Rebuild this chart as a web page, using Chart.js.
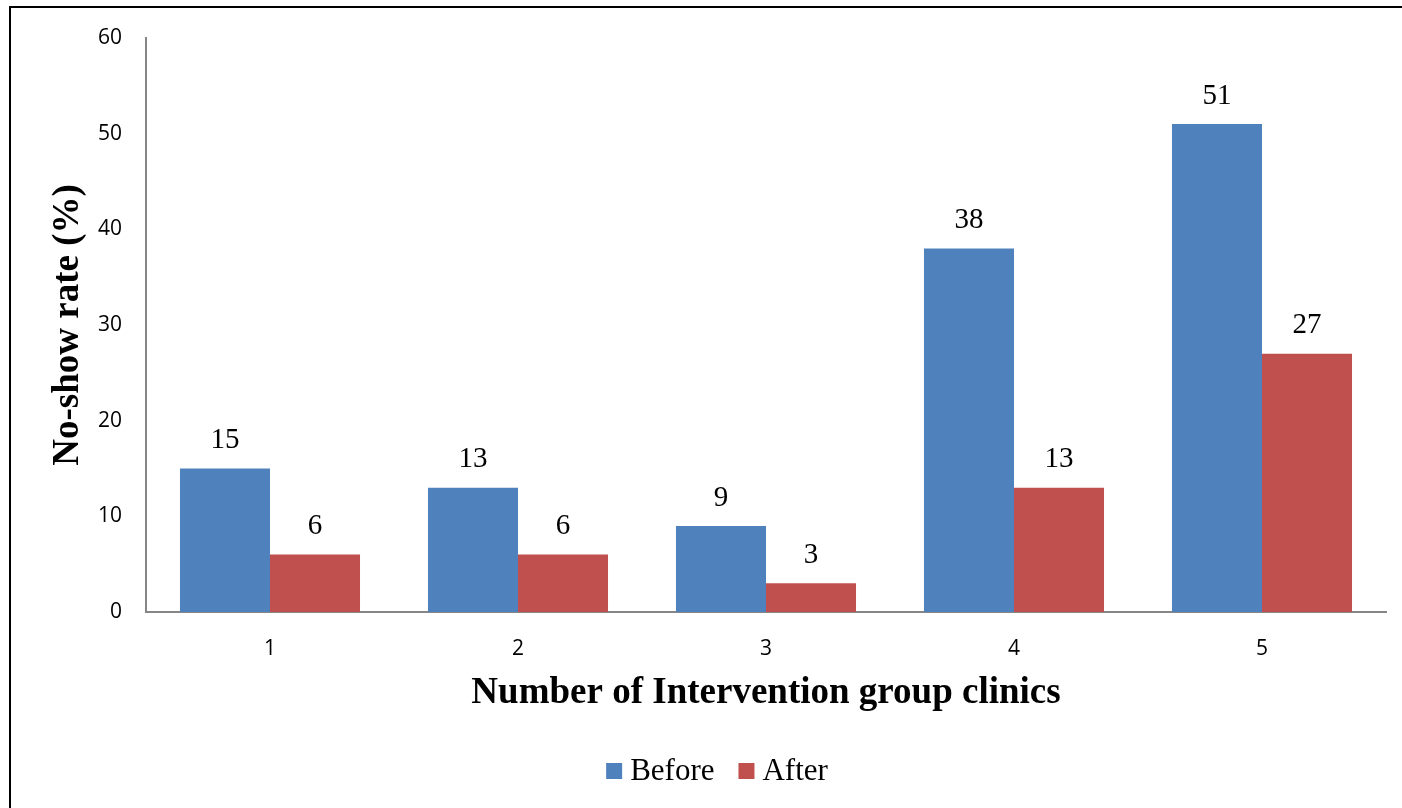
<!DOCTYPE html>
<html>
<head>
<meta charset="utf-8">
<script src="https://cdn.jsdelivr.net/npm/chart.js@4.4.1/dist/chart.umd.min.js"></script>
<style>
  html, body { margin: 0; padding: 0; background: #ffffff; }
  #wrap { position: relative; width: 1402px; height: 808px; overflow: hidden; }
  #frame { position: absolute; left: 9px; top: 6px; width: 1400px; height: 900px;
           border-left: 2px solid #000; border-top: 2px solid #000; box-sizing: border-box; }
  canvas { position: absolute; left: 0; top: 0; }
</style>
</head>
<body>
<div id="wrap">
  <div id="frame"></div>
  <canvas id="c" width="1402" height="808"></canvas>
</div>
<script>
const clinics = ['1', '2', '3', '4', '5'];
const beforeRates = [15, 13, 9, 38, 51];
const afterRates = [6, 6, 3, 13, 27];
const yTicks = [0, 10, 20, 30, 40, 50, 60];

const serif = "'Liberation Serif', 'Times New Roman', serif";
const sans = "'Open Sans', 'Liberation Sans', sans-serif";

// Writes each bar's value centred above it
const valueLabels = {
  id: 'valueLabels',
  afterDatasetsDraw(chart) {
    const ctx = chart.ctx;
    ctx.save();
    ctx.font = "29px " + serif;
    ctx.fillStyle = '#000';
    ctx.textAlign = 'center';
    ctx.textBaseline = 'middle';
    chart.data.datasets.forEach((ds, i) => {
      chart.getDatasetMeta(i).data.forEach((bar, j) => {
        ctx.fillText(String(ds.data[j]), bar.x, bar.y - 28);
      });
    });
    ctx.restore();
  }
};

// Compact legend row under the axis title: square swatch + series name
const swatchLegend = {
  id: 'swatchLegend',
  afterDraw(chart) {
    const ctx = chart.ctx;
    const box = 16, gapText = 8, gapItem = 24, midY = 771;
    ctx.save();
    ctx.font = "31px " + serif;
    ctx.textBaseline = 'middle';
    ctx.textAlign = 'left';
    const items = chart.data.datasets.map(ds => ({
      label: ds.label, color: ds.backgroundColor,
      w: box + gapText + ctx.measureText(ds.label).width
    }));
    const total = items.reduce((s, it) => s + it.w, 0) + gapItem * (items.length - 1);
    let x = chart.width / 2 + 16 - total / 2;
    items.forEach(it => {
      ctx.fillStyle = it.color;
      ctx.fillRect(x, midY - box / 2, box, box);
      ctx.fillStyle = '#000';
      ctx.fillText(it.label, x + box + gapText, midY + 1);
      x += it.w + gapItem;
    });
    ctx.restore();
  }
};

new Chart(document.getElementById('c'), {
  type: 'bar',
  data: {
    labels: clinics,
    datasets: [
      { label: 'Before', data: beforeRates, backgroundColor: '#4F81BD' },
      { label: 'After', data: afterRates, backgroundColor: '#C0504D' }
    ]
  },
  options: {
    responsive: false,
    animation: false,
    devicePixelRatio: 1,
    layout: { padding: { left: 46, right: 16, top: 38, bottom: 0 } },
    datasets: { bar: { categoryPercentage: 0.726, barPercentage: 1.0 } },
    plugins: {
      tooltip: { enabled: false },
      legend: { display: false }
    },
    scales: {
      x: {
        grid: { display: false, drawTicks: false },
        border: { display: true, color: '#868686', width: 2 },
        ticks: { font: { family: sans, size: 21 }, color: '#000', padding: 24 },
        title: {
          display: true,
          text: 'Number of Intervention group clinics',
          font: { family: serif, size: 37, weight: 'bold' },
          color: '#000',
          padding: { top: 4, bottom: 92 }
        },
        afterFit(scale) { scale.height = 196; }
      },
      y: {
        min: 0,
        max: 60,
        afterBuildTicks(scale) { scale.ticks = yTicks.map(v => ({ value: v })); },
        grid: { display: false, drawTicks: false },
        border: { display: true, color: '#868686', width: 2 },
        ticks: { font: { family: sans, size: 21 }, color: '#000', padding: 24 },
        title: {
          display: true,
          text: 'No-show rate (%)',
          font: { family: serif, size: 37, weight: 'bold' },
          color: '#000',
          padding: { top: 0, bottom: 0 }
        },
        afterFit(scale) { scale.width = 100; }
      }
    }
  },
  plugins: [valueLabels, swatchLegend]
});
</script>
</body>
</html>
